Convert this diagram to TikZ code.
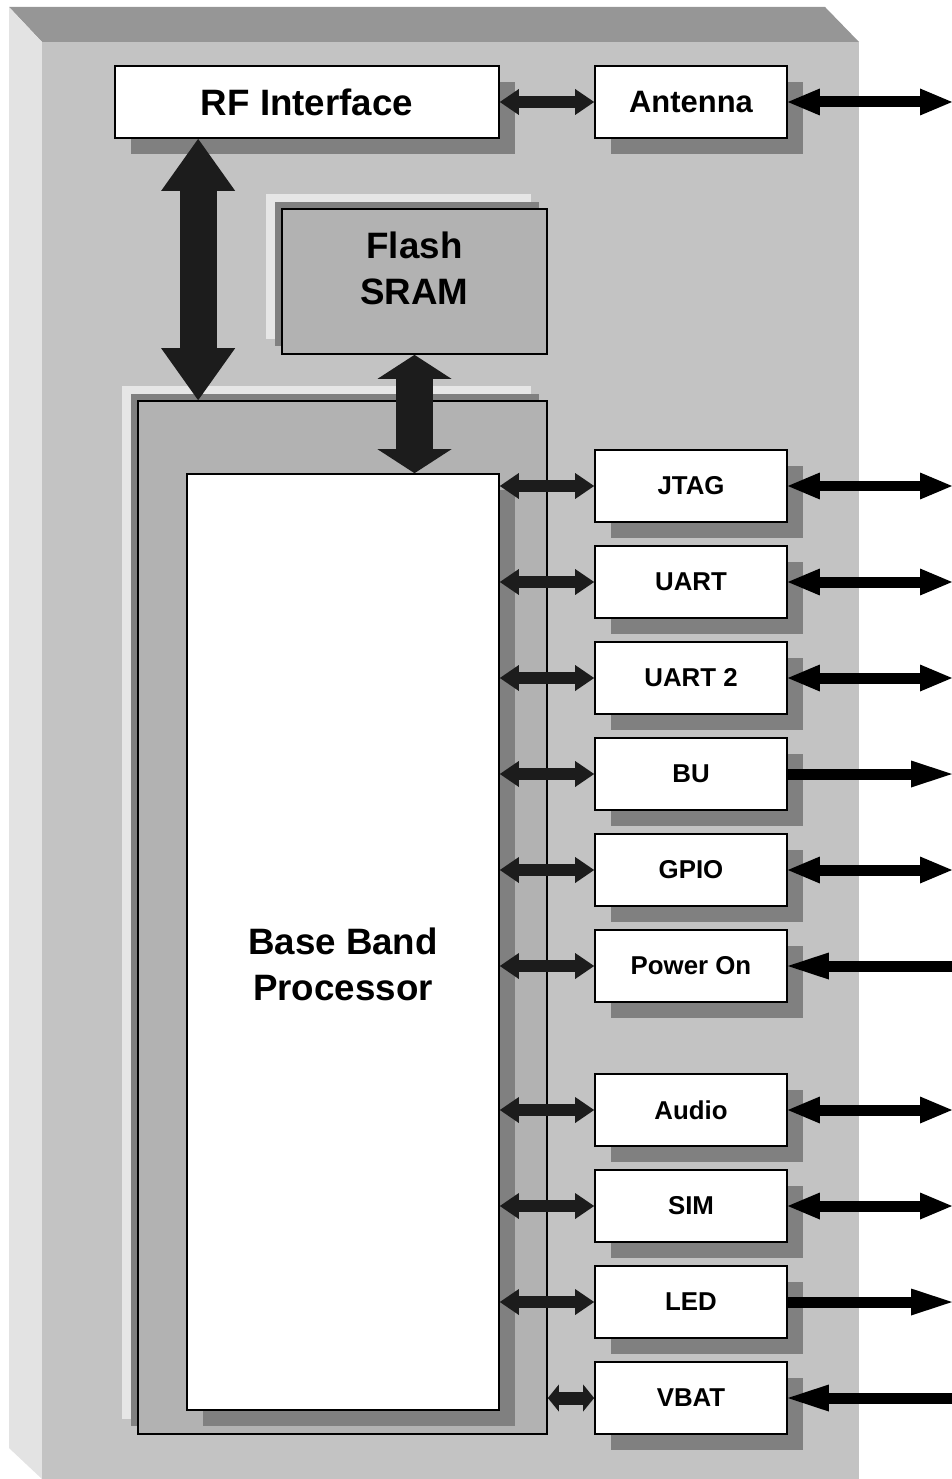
\documentclass[tikz,border=0pt]{standalone}
\usepackage{fontspec}
\setmainfont{Liberation Sans}
\usetikzlibrary{arrows.meta,shadows}
\definecolor{facegray}{RGB}{195,195,195}
\definecolor{topbevel}{RGB}{150,150,150}
\definecolor{sidebevel}{RGB}{227,227,227}
\definecolor{shadegray}{RGB}{128,128,128}
\definecolor{palegray}{RGB}{230,230,230}
\definecolor{chipgray}{RGB}{178,178,178}
\definecolor{arrowdark}{RGB}{28,28,28}
\tikzset{
  unit box/.style={
    draw=black, line width=1pt, fill=white, inner sep=0pt,
    minimum width=3.84cm, minimum height=1.44cm,
    font=\fontsize{14.7}{17}\selectfont\bfseries,
    drop shadow={shadow xshift=0.32cm, shadow yshift=-0.32cm, fill=shadegray, opacity=1}
  },
  raised box/.style={
    draw=black, line width=1pt, fill=chipgray, inner sep=0pt,
    drop shadow={shadow xshift=-0.32cm, shadow yshift=0.30cm, fill=palegray, opacity=1},
    drop shadow={shadow xshift=-0.15cm, shadow yshift=0.15cm, fill=shadegray, opacity=1}
  },
  big text/.style={font=\fontsize{20.9}{26.6}\selectfont\bfseries, align=center},
  link/.style={draw=arrowdark, line width=0.24cm,
    >={Triangle[length=0.38cm,width=0.52cm,line width=0pt]}},
  short link/.style={draw=arrowdark, line width=0.26cm,
    >={Triangle[length=0.22cm,width=0.54cm,line width=0pt]}},
  bus/.style={draw=arrowdark, line width=0.74cm,
    >={Triangle[length=1.04cm,width=1.48cm,line width=0pt]}},
  mem bus/.style={draw=arrowdark, line width=0.74cm,
    >={Triangle[length=0.48cm,width=1.48cm,line width=0pt]}},
  ext link/.style={draw=black, line width=0.22cm,
    >={Triangle[length=0.64cm,width=0.54cm,line width=0pt]}},
  ext feed/.style={draw=black, line width=0.22cm,
    >={Triangle[length=0.82cm,width=0.54cm,line width=0pt]}}
}

\begin{document}
\begin{tikzpicture}[x=0.02cm, y=-0.02cm]
\useasboundingbox (0,0) rectangle (952,1479);

% module case with bevels
\fill[topbevel] (9,7) -- (825,7) -- (859,42) -- (42,42) -- cycle;
\fill[sidebevel] (9,7) -- (42,42) -- (42,1479) -- (9,1448) -- cycle;
\fill[facegray] (42,42) rectangle (859,1479);

% RF row
\node[unit box, minimum width=7.68cm, font=\fontsize{20.9}{26.6}\selectfont\bfseries] (rf) at (307,102) {RF Interface};
\node[unit box, font=\fontsize{17.6}{20}\selectfont\bfseries] (ant) at (691,102) {Antenna};

% memory and base band
\node[raised box, minimum width=5.3cm, minimum height=2.9cm,
  label={[big text, yshift=0.26cm]center:Flash\\SRAM}] (mem) at (414.5,281.5) {};
\node[raised box, minimum width=8.18cm, minimum height=20.66cm] (bbo) at (342.5,917.5) {};
\node[unit box, minimum width=6.24cm, minimum height=18.72cm,
  label={[big text, yshift=-0.45cm]center:Base Band\\Processor}] (bbp) at (343,942) {};

% peripherals
\foreach \name/\txt/\ypos in {jtag/JTAG/486, uart/UART/582, uarttwo/UART 2/678,
    bu/BU/774, gpio/GPIO/870, pwr/Power On/966, audio/Audio/1110,
    sim/SIM/1206, led/LED/1302, vbat/VBAT/1398}
  \node[unit box] (\name) at (691,\ypos) {\txt};

% free end of the off-board lines
\coordinate (rim) at (952,0);
\coordinate (busin) at ([xshift=1.68cm]rf.south west);

% buses
\draw[link,<->] (rf) -- (ant);
\draw[bus,<->] (busin) -- (busin |- bbo.north);
\draw[mem bus,<->] (mem.south) -- (mem.south |- bbp.north);

% processor to peripherals
\foreach \name in {jtag,uart,uarttwo,bu,gpio,pwr,audio,sim,led}
  \draw[link,<->] (bbp.east |- \name.west) -- (\name.west);
\draw[short link,<->] (bbo.east |- vbat.west) -- (vbat.west);

% off-board lines
\foreach \name in {ant,jtag,uart,uarttwo,gpio,audio,sim}
  \draw[ext link,<->] (\name.east) -- (\name.east -| rim);
\foreach \name in {bu,led}
  \draw[ext feed,->] (\name.east) -- (\name.east -| rim);
\foreach \name in {pwr,vbat}
  \draw[ext feed,<-] (\name.east) -- (\name.east -| rim);

\end{tikzpicture}
\end{document}
